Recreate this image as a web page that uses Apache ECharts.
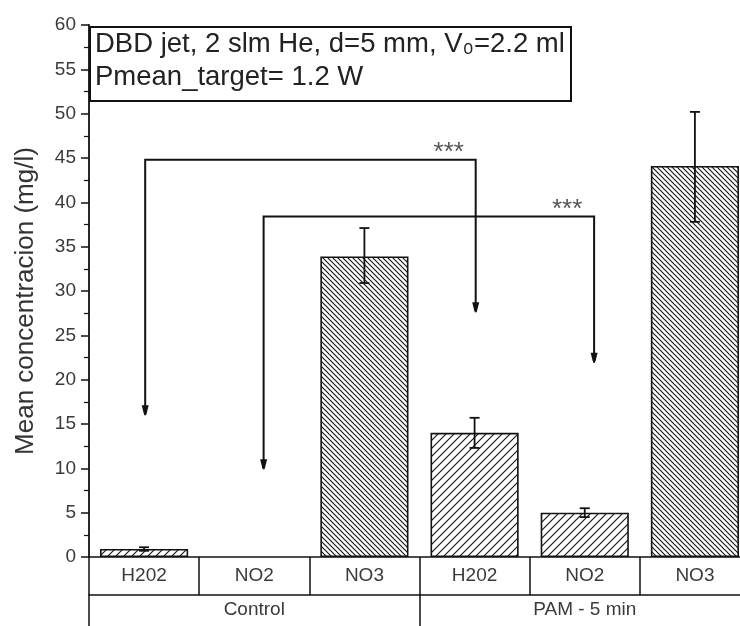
<!DOCTYPE html>
<html>
<head>
<meta charset="utf-8">
<script src="https://cdn.jsdelivr.net/npm/echarts@6/dist/echarts.min.js"></script>
<style>
  html, body { margin: 0; padding: 0; background: #fff; overflow: hidden; }
  #chart { width: 750px; height: 626px; }
</style>
</head>
<body>
<div id="chart"></div>
<script>
// data
var categories = ['H202', 'NO2', 'NO3', 'H202', 'NO2', 'NO3'];
var groups = ['Control', 'PAM - 5 min'];
var means = [0.9, 0, 33.9, 14.0, 5.0, 44.1];
var errLow = [0.7, 0, 30.9, 12.3, 4.5, 37.8];
var errHigh = [1.1, 0, 37.1, 15.7, 5.5, 50.2];
var yTicks = [0, 60, 5];
// significance brackets: [from index, to index, bracket level, left arrow tip, right arrow tip]
var sigFrom = [0, 1];
var sigTo = [3, 4];
var sigLevel = [44.8, 38.4];
var sigTipFrom = [16.0, 9.9];
var sigTipTo = [27.6, 21.9];
var sigLabel = ['***', '***'];

var FONT = '"Liberation Sans", Arial, sans-serif';

function makeHatch(p, back) {
  var c = document.createElement('canvas');
  c.width = p; c.height = p;
  var ctx = c.getContext('2d');
  ctx.fillStyle = '#fff';
  ctx.fillRect(0, 0, p, p);
  ctx.strokeStyle = '#1a1a1a';
  ctx.lineWidth = 1.2;
  ctx.beginPath();
  if (back) {
    ctx.moveTo(0, 0); ctx.lineTo(p, p);
    ctx.moveTo(-2, p - 2); ctx.lineTo(2, p + 2);
    ctx.moveTo(p - 2, -2); ctx.lineTo(p + 2, 2);
  } else {
    ctx.moveTo(0, p); ctx.lineTo(p, 0);
    ctx.moveTo(-2, 2); ctx.lineTo(2, -2);
    ctx.moveTo(p - 2, p + 2); ctx.lineTo(p + 2, p - 2);
  }
  ctx.stroke();
  return { image: c, repeat: 'repeat' };
}
var slash = makeHatch(8, false);
var backslash = makeHatch(5, true);

var barData = means.map(function (v, i) {
  return {
    value: v,
    itemStyle: {
      color: categories[i] === 'NO3' ? backslash : slash,
      borderColor: v > 0 ? '#111' : 'transparent',
      borderWidth: 1.6
    }
  };
});

var errData = means.map(function (v, i) { return [i, errLow[i], errHigh[i]]; });
var sigData = sigFrom.map(function (f, i) {
  return [f, sigTo[i], sigLevel[i], sigTipFrom[i], sigTipTo[i]];
});

var myChart = echarts.init(document.getElementById('chart'));

var option = {
  animation: false,
  backgroundColor: '#fff',
  grid: { left: 89, right: 0, top: 25, bottom: 69 },
  xAxis: [{
    type: 'category',
    data: categories,
    position: 'bottom',
    axisLine: { lineStyle: { color: '#111', width: 1.6 } },
    axisTick: { show: true, length: 38, lineStyle: { color: '#111', width: 1.5 } },
    axisLabel: { margin: 9, fontSize: 19, color: '#3a3a3a', fontFamily: FONT },
    splitLine: { show: false }
  }, {
    type: 'category',
    data: groups,
    position: 'bottom',
    offset: 38,
    axisLine: { lineStyle: { color: '#111', width: 1.5 } },
    axisTick: { show: true, length: 40, lineStyle: { color: '#111', width: 1.5 } },
    axisLabel: { margin: 5, fontSize: 19, color: '#3a3a3a', fontFamily: FONT },
    splitLine: { show: false }
  }],
  yAxis: {
    type: 'value',
    min: yTicks[0],
    max: yTicks[1],
    interval: yTicks[2],
    name: 'Mean concentracion (mg/l)',
    nameLocation: 'middle',
    nameGap: 50,
    nameTextStyle: { fontSize: 26, color: '#333', fontFamily: FONT, padding: [0, 20, 0, 0] },
    axisLine: { show: true, lineStyle: { color: '#111', width: 1.8 } },
    axisTick: { show: true, length: 8, lineStyle: { color: '#111', width: 1.5 } },
    minorTick: { show: true, splitNumber: 2, length: 5, lineStyle: { color: '#111', width: 1.2 } },
    axisLabel: { margin: 13, fontSize: 19, color: '#3a3a3a', fontFamily: FONT },
    splitLine: { show: false }
  },
  series: [{
    type: 'bar',
    data: barData,
    barWidth: '80%',
    silent: true
  }, {
    type: 'custom',
    data: errData,
    silent: true,
    z: 5,
    encode: { x: 0, y: [1, 2] },
    renderItem: function (params, api) {
      var i = api.value(0);
      if (means[i] === 0) return null;
      var lo = api.coord([i, api.value(1)]);
      var hi = api.coord([i, api.value(2)]);
      var x = lo[0];
      var st = { stroke: '#111', lineWidth: 1.8 };
      return {
        type: 'group',
        children: [
          { type: 'line', shape: { x1: x, y1: lo[1], x2: x, y2: hi[1] }, style: st },
          { type: 'line', shape: { x1: x - 5, y1: lo[1], x2: x + 5, y2: lo[1] }, style: st },
          { type: 'line', shape: { x1: x - 5, y1: hi[1], x2: x + 5, y2: hi[1] }, style: st }
        ]
      };
    }
  }, {
    type: 'custom',
    data: sigData,
    silent: true,
    clip: false,
    z: 6,
    encode: { x: [0, 1], y: [2, 3, 4] },
    renderItem: function (params, api) {
      var shift = [0.01, 0.085][params.dataIndex];
      var w = api.size([1, 0])[0];
      var a = api.coord([api.value(0), api.value(2)]);
      var b = api.coord([api.value(1), api.value(2)]);
      var xa = a[0] + shift * w, xb = b[0] + shift * w, yl = a[1];
      var ta = api.coord([api.value(0), api.value(3)])[1];
      var tb = api.coord([api.value(1), api.value(4)])[1];
      function head(x, y) {
        return {
          type: 'polygon',
          shape: { points: [[x - 3.5, y - 10], [x + 3.5, y - 10], [x + 1.5, y - 2], [x, y], [x - 1.5, y - 2]] },
          style: { fill: '#111' }
        };
      }
      return {
        type: 'group',
        children: [
          { type: 'polyline', shape: { points: [[xa, ta], [xa, yl], [xb, yl], [xb, tb]] }, style: { stroke: '#111', lineWidth: 2, fill: null } },
          head(xa, ta),
          head(xb, tb),
          {
            type: 'text',
            style: {
              x: xb - 27, y: yl - 7,
              text: sigLabel[params.dataIndex],
              textAlign: 'center', textVerticalAlign: 'middle',
              font: '26px ' + FONT, fill: '#555'
            }
          }
        ]
      };
    }
  }],
  graphic: [{
    type: 'rect',
    left: 89, top: 26,
    shape: { width: 481, height: 74 },
    style: { fill: '#fff', stroke: '#111', lineWidth: 2 },
    z: 10
  }, {
    type: 'text',
    left: 95, top: 30,
    style: { text: 'DBD jet, 2 slm He, d=5 mm, V\u2080=2.2 ml', font: '27.5px ' + FONT, fill: '#222' },
    z: 11
  }, {
    type: 'text',
    left: 95, top: 63,
    style: { text: 'Pmean_target= 1.2 W', font: '27.5px ' + FONT, fill: '#222' },
    z: 11
  }]
};

myChart.setOption(option);
</script>
</body>
</html>
